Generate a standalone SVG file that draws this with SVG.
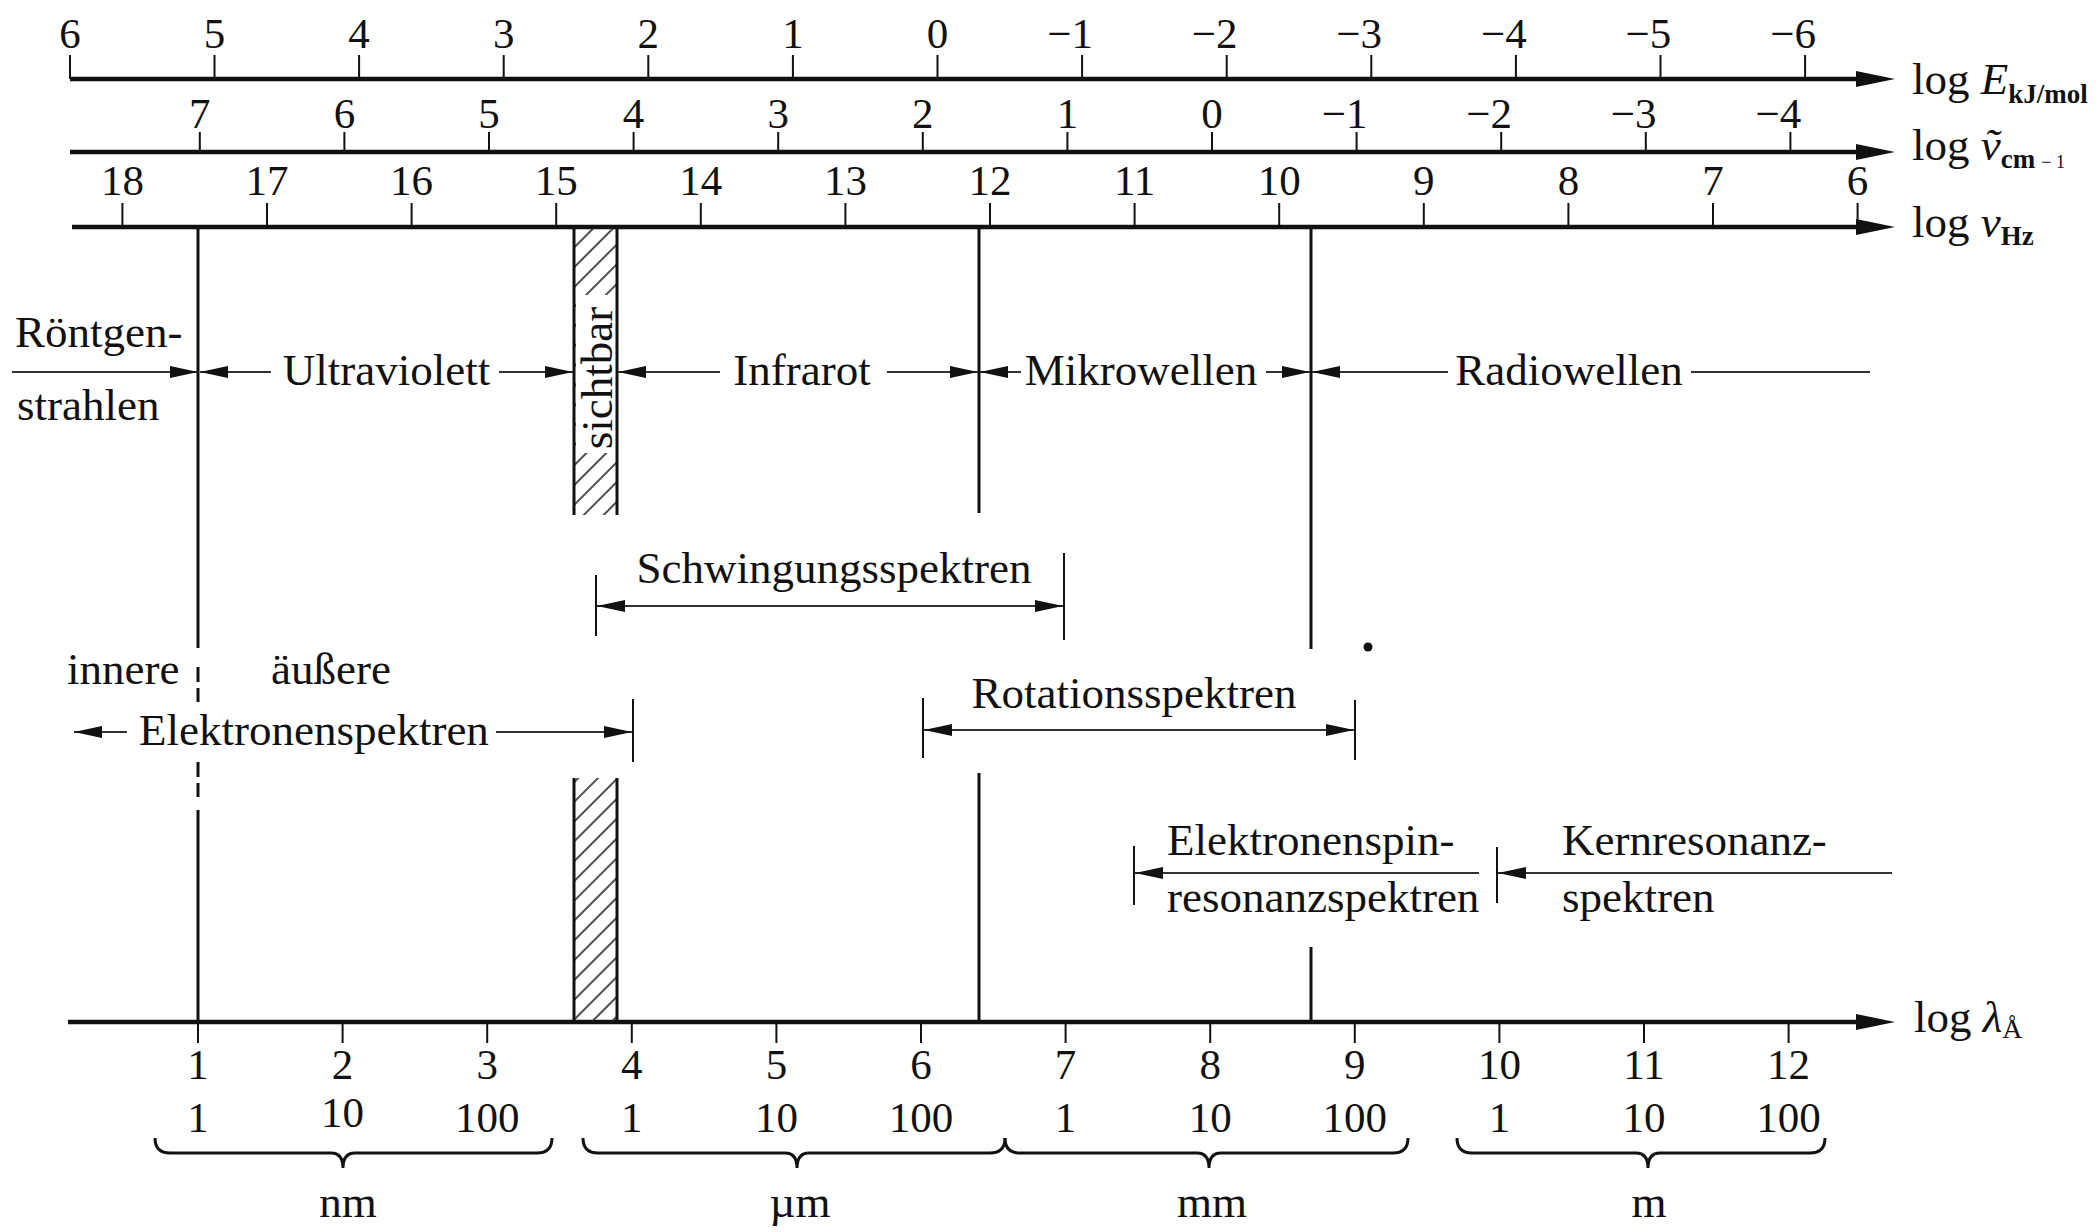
<svg xmlns="http://www.w3.org/2000/svg" width="2099" height="1232" viewBox="0 0 2099 1232">
<style>
text{font-family:"Liberation Serif","Times New Roman",serif;fill:#111}
.n{font-size:43px;text-anchor:middle}
.ng{font-size:43px;text-anchor:end}
.l{font-size:45px}
.c{text-anchor:middle}
.ax{stroke:#111;stroke-width:4.5;fill:none}
.tk{stroke:#111;stroke-width:2}
.vl{stroke:#111;stroke-width:3}
.ar{stroke:#333;stroke-width:2.2;fill:none}
.br{stroke:#111;stroke-width:3;fill:none}
.sub{font-size:27px;font-weight:bold}
</style>
<defs>
<marker id="ah" viewBox="0 0 28 12" refX="28" refY="6" markerWidth="28" markerHeight="12" markerUnits="userSpaceOnUse" orient="auto-start-reverse"><path d="M0,0 L28,6 L0,12 z" fill="#111"/></marker>
<pattern id="hatch" patternUnits="userSpaceOnUse" width="14" height="14" patternTransform="rotate(-45)"><line x1="0" y1="7" x2="14" y2="7" stroke="#222" stroke-width="1.6"/></pattern>
</defs>
<rect width="2099" height="1232" fill="#fff"/>

<!-- Energy axis -->
<g id="axis-E">
<line class="ax" x1="70" y1="79" x2="1860" y2="79"/>
<polygon points="1856,71 1895,79 1856,87" fill="#111"/>
<g class="tk">
<line x1="70" y1="55" x2="70" y2="79"/><line x1="214.5" y1="55" x2="214.5" y2="79"/><line x1="359.1" y1="55" x2="359.1" y2="79"/><line x1="503.7" y1="55" x2="503.7" y2="79"/><line x1="648.3" y1="55" x2="648.3" y2="79"/><line x1="792.9" y1="55" x2="792.9" y2="79"/><line x1="937.5" y1="55" x2="937.5" y2="79"/><line x1="1082.1" y1="55" x2="1082.1" y2="79"/><line x1="1226.7" y1="55" x2="1226.7" y2="79"/><line x1="1371.3" y1="55" x2="1371.3" y2="79"/><line x1="1515.9" y1="55" x2="1515.9" y2="79"/><line x1="1660.5" y1="55" x2="1660.5" y2="79"/><line x1="1805.1" y1="55" x2="1805.1" y2="79"/>
</g>
<text class="n" x="70" y="48">6</text><text class="n" x="214.5" y="48">5</text><text class="n" x="359.1" y="48">4</text><text class="n" x="503.7" y="48">3</text><text class="n" x="648.3" y="48">2</text><text class="n" x="792.9" y="48">1</text><text class="n" x="937.5" y="48">0</text>
<text class="ng" x="1093" y="48">−1</text><text class="ng" x="1237.5" y="48">−2</text><text class="ng" x="1382" y="48">−3</text><text class="ng" x="1526.7" y="48">−4</text><text class="ng" x="1671.3" y="48">−5</text><text class="ng" x="1816" y="48">−6</text>
<text class="l" x="1912" y="94">log <tspan font-style="italic">E</tspan><tspan class="sub" dy="9">kJ/mol</tspan></text>
</g>

<!-- Wavenumber axis -->
<g id="axis-wavenumber">
<line class="ax" x1="70" y1="152" x2="1860" y2="152"/>
<polygon points="1856,144 1895,152 1856,160" fill="#111"/>
<g class="tk">
<line x1="199.8" y1="132" x2="199.8" y2="152"/><line x1="344.4" y1="132" x2="344.4" y2="152"/><line x1="489" y1="132" x2="489" y2="152"/><line x1="633.6" y1="132" x2="633.6" y2="152"/><line x1="778.2" y1="132" x2="778.2" y2="152"/><line x1="922.8" y1="132" x2="922.8" y2="152"/><line x1="1067.4" y1="132" x2="1067.4" y2="152"/><line x1="1212" y1="132" x2="1212" y2="152"/><line x1="1356.6" y1="132" x2="1356.6" y2="152"/><line x1="1501.2" y1="132" x2="1501.2" y2="152"/><line x1="1645.8" y1="132" x2="1645.8" y2="152"/><line x1="1790.4" y1="132" x2="1790.4" y2="152"/>
</g>
<text class="n" x="199.8" y="128">7</text><text class="n" x="344.4" y="128">6</text><text class="n" x="489" y="128">5</text><text class="n" x="633.6" y="128">4</text><text class="n" x="778.2" y="128">3</text><text class="n" x="922.8" y="128">2</text><text class="n" x="1067.4" y="128">1</text><text class="n" x="1212" y="128">0</text>
<text class="ng" x="1367.4" y="128">−1</text><text class="ng" x="1512" y="128">−2</text><text class="ng" x="1656.6" y="128">−3</text><text class="ng" x="1801.2" y="128">−4</text>
<text class="l" x="1912" y="160">log <tspan font-style="italic">ṽ</tspan><tspan class="sub" dy="8">cm</tspan><tspan font-size="18" dx="6">− 1</tspan></text>
</g>

<!-- Frequency axis -->
<g id="axis-frequency">
<line class="ax" x1="72" y1="227" x2="1860" y2="227"/>
<polygon points="1856,219 1895,227 1856,235" fill="#111"/>
<g class="tk">
<line x1="122.4" y1="203" x2="122.4" y2="227"/><line x1="267" y1="203" x2="267" y2="227"/><line x1="411.6" y1="203" x2="411.6" y2="227"/><line x1="556.2" y1="203" x2="556.2" y2="227"/><line x1="700.8" y1="203" x2="700.8" y2="227"/><line x1="845.4" y1="203" x2="845.4" y2="227"/><line x1="990" y1="203" x2="990" y2="227"/><line x1="1134.6" y1="203" x2="1134.6" y2="227"/><line x1="1279.2" y1="203" x2="1279.2" y2="227"/><line x1="1423.8" y1="203" x2="1423.8" y2="227"/><line x1="1568.4" y1="203" x2="1568.4" y2="227"/><line x1="1713" y1="203" x2="1713" y2="227"/><line x1="1857.6" y1="203" x2="1857.6" y2="227"/>
</g>
<text class="n" x="122.4" y="195">18</text><text class="n" x="267" y="195">17</text><text class="n" x="411.6" y="195">16</text><text class="n" x="556.2" y="195">15</text><text class="n" x="700.8" y="195">14</text><text class="n" x="845.4" y="195">13</text><text class="n" x="990" y="195">12</text><text class="n" x="1134.6" y="195">11</text><text class="n" x="1279.2" y="195">10</text><text class="n" x="1423.8" y="195">9</text><text class="n" x="1568.4" y="195">8</text><text class="n" x="1713" y="195">7</text><text class="n" x="1857.6" y="195">6</text>
<text class="l" x="1912" y="237">log <tspan font-style="italic">ν</tspan><tspan class="sub" dy="8">Hz</tspan></text>
</g>

<!-- Wavelength axis -->
<g id="axis-wavelength">
<line class="ax" x1="68" y1="1022" x2="1860" y2="1022"/>
<polygon points="1856,1014 1895,1022 1856,1030" fill="#111"/>
<g class="tk">
<line x1="198" y1="1022" x2="198" y2="1043"/><line x1="342.6" y1="1022" x2="342.6" y2="1043"/><line x1="487.2" y1="1022" x2="487.2" y2="1043"/><line x1="631.8" y1="1022" x2="631.8" y2="1043"/><line x1="776.4" y1="1022" x2="776.4" y2="1043"/><line x1="921" y1="1022" x2="921" y2="1043"/><line x1="1065.6" y1="1022" x2="1065.6" y2="1043"/><line x1="1210.2" y1="1022" x2="1210.2" y2="1043"/><line x1="1354.8" y1="1022" x2="1354.8" y2="1043"/><line x1="1499.4" y1="1022" x2="1499.4" y2="1043"/><line x1="1644" y1="1022" x2="1644" y2="1043"/><line x1="1788.6" y1="1022" x2="1788.6" y2="1043"/>
</g>
<text class="n" x="198" y="1079">1</text><text class="n" x="342.6" y="1079">2</text><text class="n" x="487.2" y="1079">3</text><text class="n" x="631.8" y="1079">4</text><text class="n" x="776.4" y="1079">5</text><text class="n" x="921" y="1079">6</text><text class="n" x="1065.6" y="1079">7</text><text class="n" x="1210.2" y="1079">8</text><text class="n" x="1354.8" y="1079">9</text><text class="n" x="1499.4" y="1079">10</text><text class="n" x="1644" y="1079">11</text><text class="n" x="1788.6" y="1079">12</text>
<text class="n" x="198" y="1132">1</text><text class="n" x="342.6" y="1127">10</text><text class="n" x="487.2" y="1132">100</text><text class="n" x="631.8" y="1132">1</text><text class="n" x="776.4" y="1132">10</text><text class="n" x="921" y="1132">100</text><text class="n" x="1065.6" y="1132">1</text><text class="n" x="1210.2" y="1132">10</text><text class="n" x="1354.8" y="1132">100</text><text class="n" x="1499.4" y="1132">1</text><text class="n" x="1644" y="1132">10</text><text class="n" x="1788.6" y="1132">100</text>
<text class="l" x="1914" y="1032">log <tspan font-style="italic">λ</tspan><tspan font-size="28" dy="6">Å</tspan></text>
</g>

<!-- Unit braces -->
<g id="braces">
<path class="br" d="M155,1138 Q155,1153 170,1153 L331,1153 Q343,1153 343,1168 Q343,1153 355,1153 L537,1153 Q552,1153 552,1138"/>
<path class="br" d="M583,1138 Q583,1153 598,1153 L785,1153 Q797,1153 797,1168 Q797,1153 809,1153 L990,1153 Q1005,1153 1005,1138"/>
<path class="br" d="M1005,1138 Q1005,1153 1020,1153 L1197,1153 Q1209,1153 1209,1168 Q1209,1153 1221,1153 L1393,1153 Q1408,1153 1408,1138"/>
<path class="br" d="M1457,1138 Q1457,1153 1472,1153 L1636,1153 Q1648,1153 1648,1168 Q1648,1153 1660,1153 L1810,1153 Q1825,1153 1825,1138"/>
<text class="l c" x="348" y="1217">nm</text>
<text class="l c" x="800" y="1217">µm</text>
<text class="l c" x="1212" y="1217">mm</text>
<text class="l c" x="1649" y="1217">m</text>
</g>

<!-- Boundary lines -->
<g id="boundaries">
<line class="vl" x1="198" y1="227" x2="198" y2="648"/>
<line class="vl" x1="198" y1="667" x2="198" y2="682"/>
<line class="vl" x1="198" y1="688" x2="198" y2="702"/>
<line class="vl" x1="198" y1="762" x2="198" y2="777"/>
<line class="vl" x1="198" y1="783" x2="198" y2="797"/>
<line class="vl" x1="198" y1="810" x2="198" y2="1022"/>
<line class="vl" x1="979" y1="227" x2="979" y2="513"/>
<line class="vl" x1="979" y1="773" x2="979" y2="1022"/>
<line class="vl" x1="1311" y1="227" x2="1311" y2="649"/>
<line class="vl" x1="1311" y1="947" x2="1311" y2="1022"/>
<circle cx="1368" cy="647" r="4.5" fill="#111"/>
</g>

<!-- Visible band -->
<g id="sichtbar">
<rect x="573" y="228" width="45" height="287" fill="url(#hatch)"/>
<rect x="573" y="778" width="45" height="244" fill="url(#hatch)"/>
<rect x="576" y="295" width="40" height="158" fill="#fff"/>
<line class="vl" x1="574" y1="227" x2="574" y2="515"/>
<line class="vl" x1="617" y1="227" x2="617" y2="515"/>
<line class="vl" x1="574" y1="778" x2="574" y2="1022"/>
<line class="vl" x1="617" y1="778" x2="617" y2="1022"/>
<text class="l c" transform="translate(612,378) rotate(-90)">sichtbar</text>
</g>

<!-- Regions -->
<g id="regions">
<text class="l" x="15" y="347">Röntgen-</text>
<text class="l" x="17" y="420">strahlen</text>
<text class="l c" x="386.5" y="385">Ultraviolett</text>
<text class="l c" x="802" y="385">Infrarot</text>
<text class="l c" x="1141" y="385">Mikrowellen</text>
<text class="l c" x="1569" y="385">Radiowellen</text>
</g>

<g id="spectra">
<text class="l c" x="834" y="583">Schwingungsspektren</text>
<text class="l" x="67" y="684">innere</text>
<text class="l" x="271" y="684">äußere</text>
<text class="l" x="139" y="745">Elektronenspektren</text>
<text class="l c" x="1134" y="708">Rotationsspektren</text>
<text class="l" x="1167" y="855">Elektronenspin-</text>
<text class="l" x="1167" y="912">resonanzspektren</text>
<text class="l" x="1562" y="855">Kernresonanz-</text>
<text class="l" x="1562" y="912">spektren</text>
</g>

<!-- Connectors -->
<g id="connectors">
<line class="ar" x1="12" y1="372" x2="198" y2="372" marker-end="url(#ah)"/>
<line class="ar" x1="200" y1="372" x2="271" y2="372" marker-start="url(#ah)"/>
<line class="ar" x1="499" y1="372" x2="573" y2="372" marker-end="url(#ah)"/>
<line class="ar" x1="618" y1="372" x2="720" y2="372" marker-start="url(#ah)"/>
<line class="ar" x1="887" y1="372" x2="978" y2="372" marker-end="url(#ah)"/>
<line class="ar" x1="980" y1="372" x2="1021" y2="372" marker-start="url(#ah)"/>
<line class="ar" x1="1266" y1="372" x2="1310" y2="372" marker-end="url(#ah)"/>
<line class="ar" x1="1312" y1="372" x2="1448" y2="372" marker-start="url(#ah)"/>
<line class="ar" x1="1691" y1="372" x2="1870" y2="372"/>

<line class="tk" x1="596" y1="575" x2="596" y2="636"/>
<line class="tk" x1="1064" y1="553" x2="1064" y2="640"/>
<line class="ar" x1="597" y1="606" x2="1063" y2="606" marker-start="url(#ah)" marker-end="url(#ah)"/>

<line class="ar" x1="127" y1="732" x2="74" y2="732" marker-end="url(#ah)"/>
<line class="ar" x1="496" y1="732" x2="632" y2="732" marker-end="url(#ah)"/>
<line class="tk" x1="633" y1="699" x2="633" y2="762"/>

<line class="tk" x1="923" y1="698" x2="923" y2="758"/>
<line class="tk" x1="1355" y1="700" x2="1355" y2="760"/>
<line class="ar" x1="924" y1="730" x2="1354" y2="730" marker-start="url(#ah)" marker-end="url(#ah)"/>

<line class="tk" x1="1134" y1="846" x2="1134" y2="905"/>
<line class="ar" x1="1479" y1="873" x2="1135" y2="873" marker-end="url(#ah)"/>
<line class="tk" x1="1497" y1="847" x2="1497" y2="903"/>
<line class="ar" x1="1892" y1="873" x2="1498" y2="873" marker-end="url(#ah)"/>
</g>
</svg>
